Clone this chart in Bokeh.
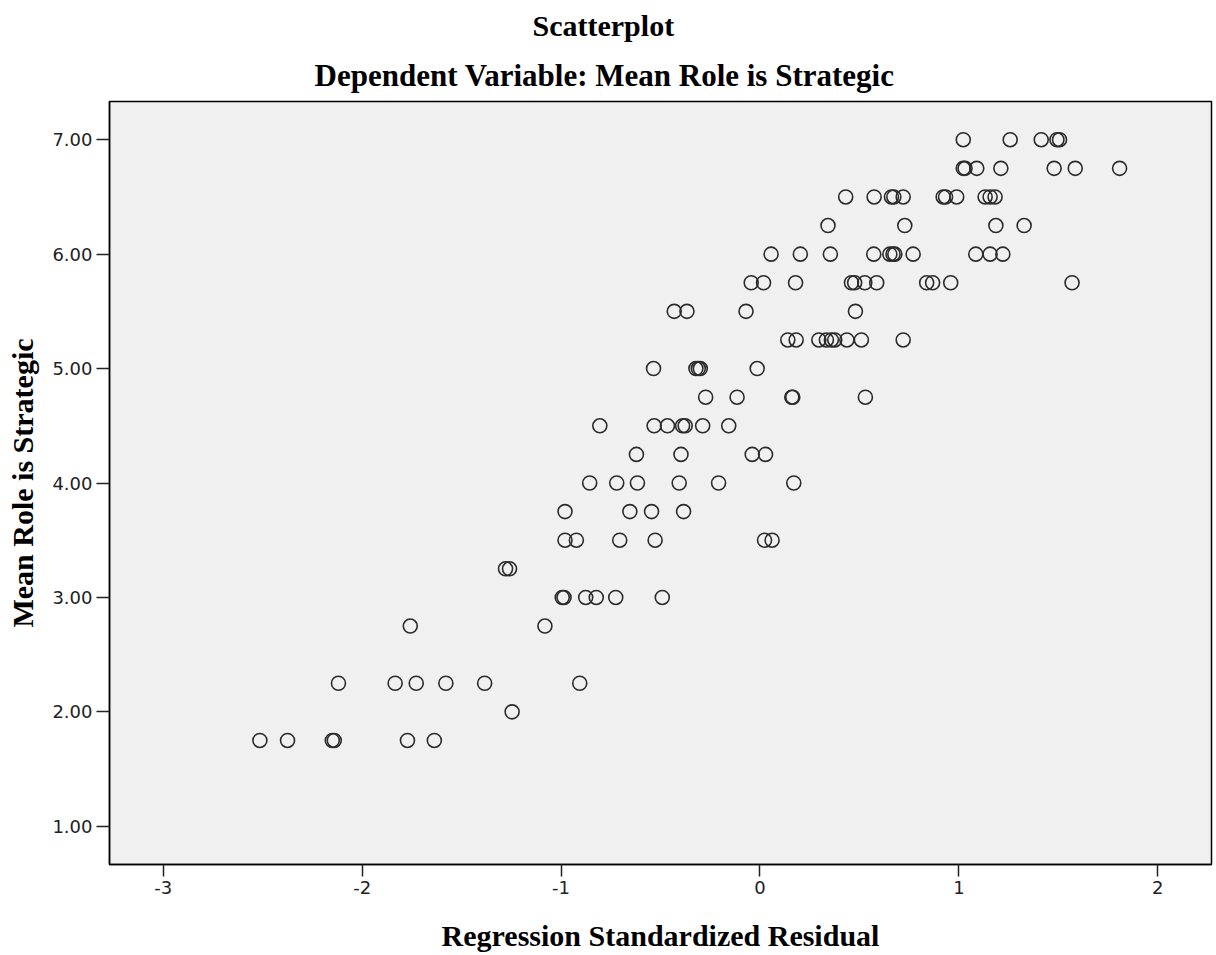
from bokeh.plotting import figure
from bokeh.models import Range1d, FixedTicker, NumeralTickFormatter, Title
from bokeh.embed import file_html
from bokeh.resources import INLINE

residual = [
    1.022, 1.258, 1.414, 1.493, 1.506,
    1.022, 1.031, 1.090, 1.211, 1.479, 1.585, 1.808,
    0.431, 0.574, 0.661, 0.673, 0.720, 0.921, 0.933, 0.989, 1.132, 1.157, 1.182,
    0.342, 0.728, 1.186, 1.328,
    0.056, 0.203, 0.354, 0.572, 0.653, 0.669, 0.678, 0.770, 1.085, 1.157, 1.221,
    -0.044, 0.018, 0.179, 0.460, 0.476, 0.527, 0.587, 0.838, 0.868, 0.959, 1.569,
    -0.431, -0.367, -0.070, 0.480,
    0.140, 0.182, 0.296, 0.334, 0.359, 0.376, 0.437, 0.510, 0.720,
    -0.535, -0.322, -0.310, -0.300, -0.014,
    -0.273, -0.115, 0.160, 0.165, 0.530,
    -0.805, -0.532, -0.465, -0.389, -0.376, -0.288, -0.157,
    -0.621, -0.397, -0.039, 0.028,
    -0.856, -0.720, -0.616, -0.406, -0.208, 0.170,
    -0.980, -0.654, -0.545, -0.384,
    -0.980, -0.923, -0.705, -0.527, 0.023, 0.061,
    -1.279, -1.259,
    -0.994, -0.985, -0.876, -0.823, -0.725, -0.491,
    -1.758, -1.081,
    -2.119, -1.834, -1.728, -1.579, -1.384, -0.906,
    -1.246,
    -2.514, -2.375, -2.150, -2.140, -1.772, -1.637,
]
mean_role = (
    [7.00] * 5 + [6.75] * 7 + [6.50] * 11 + [6.25] * 4 + [6.00] * 11
    + [5.75] * 11 + [5.50] * 4 + [5.25] * 9 + [5.00] * 5 + [4.75] * 5
    + [4.50] * 7 + [4.25] * 4 + [4.00] * 6 + [3.75] * 4 + [3.50] * 6
    + [3.25] * 2 + [3.00] * 6 + [2.75] * 2 + [2.25] * 6 + [2.00] * 1
    + [1.75] * 6
)
x_ticks = [-3, -2, -1, 0, 1, 2]
y_ticks = [1, 2, 3, 4, 5, 6, 7]

SERIF = "Liberation Serif"
SANS = "DejaVu Sans"

p = figure(
    width=1216, height=955,
    x_range=Range1d(-3.27, 2.27), y_range=Range1d(0.666, 7.334),
    output_backend="svg", toolbar_location=None,
    min_border_left=109, min_border_right=5,
    min_border_top=101, min_border_bottom=91,
    background_fill_color="#f0f0f0", border_fill_color="white",
)
p.outline_line_color = "black"
p.outline_line_width = 1.5
p.grid.visible = False

# outer heading
p.title.text = "Scatterplot"
p.title.align = "left"
p.title.offset = 423
p.title.text_font = SERIF
p.title.text_font_style = "bold"
p.title.text_font_size = "30px"
p.title.text_color = "black"
p.title.standoff = 12

# subtitle just above the frame
p.add_layout(Title(text="Dependent Variable: Mean Role is Strategic",
                   align="left", offset=205,
                   text_font=SERIF, text_font_style="bold",
                   text_font_size="31px", text_color="black",
                   standoff=17), "above")

p.scatter(residual, mean_role, marker="circle", size=14,
          fill_color=None, line_color="#2b2b2b", line_width=1.6)

xa = p.xaxis[0]
xa.ticker = FixedTicker(ticks=x_ticks)
xa.formatter = NumeralTickFormatter(format="0")
xa.minor_tick_line_color = None
xa.major_tick_in = 0
xa.major_tick_out = 12
xa.axis_line_color = "black"
xa.axis_line_width = 1.5
xa.major_tick_line_color = "#222222"
xa.major_tick_line_width = 1.5
xa.major_label_text_font = SANS
xa.major_label_text_font_size = "18px"
xa.major_label_text_color = "#222222"
xa.major_label_standoff = 4
xa.axis_label = "Regression Standardized Residual"
xa.axis_label_text_font = SERIF
xa.axis_label_text_font_style = "bold"
xa.axis_label_text_font_size = "30px"
xa.axis_label_text_color = "black"
xa.axis_label_standoff = 22

ya = p.yaxis[0]
ya.ticker = FixedTicker(ticks=y_ticks)
ya.formatter = NumeralTickFormatter(format="0.00")
ya.minor_tick_line_color = None
ya.major_tick_in = 0
ya.major_tick_out = 13
ya.axis_line_color = "black"
ya.axis_line_width = 1.5
ya.major_tick_line_color = "#222222"
ya.major_tick_line_width = 1.5
ya.major_label_text_font = SANS
ya.major_label_text_font_size = "18px"
ya.major_label_text_color = "#222222"
ya.major_label_standoff = 4
ya.axis_label = "Mean Role is Strategic"
ya.axis_label_text_font = SERIF
ya.axis_label_text_font_style = "bold"
ya.axis_label_text_font_size = "30px"
ya.axis_label_text_color = "black"
ya.axis_label_standoff = 10

open("out.html", "w").write(file_html(p, INLINE))
